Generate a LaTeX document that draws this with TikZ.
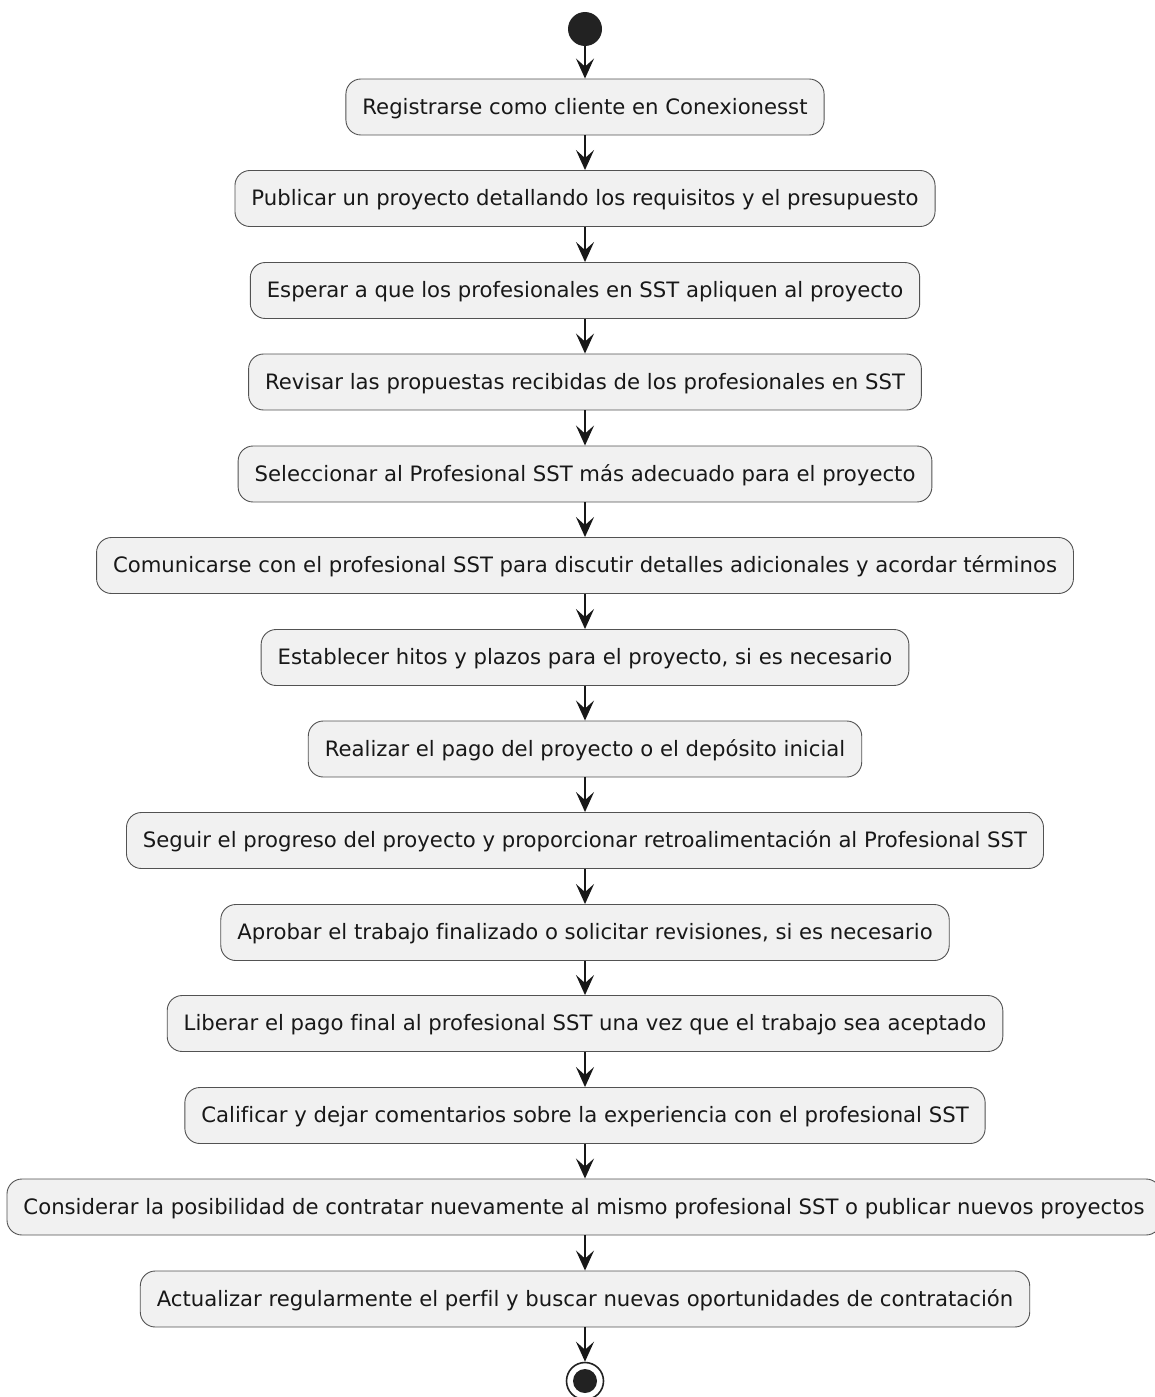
\documentclass[tikz,border=0pt]{standalone}
\usepackage{fontspec}
\setmainfont[Ligatures=NoCommon]{DejaVu Sans}
\usetikzlibrary{arrows.meta,positioning}
\definecolor{boxfill}{HTML}{F1F1F1}
\definecolor{ink}{HTML}{181818}
\definecolor{dot}{HTML}{222222}
\tikzset{
  actbox/.style={draw=ink!75,line width=0.9pt,fill=boxfill,rounded corners=15pt,
    minimum height=56pt,inner xsep=16.5pt,inner ysep=0pt,
    text height=15.5pt,text depth=1.5pt,
    font=\fontsize{21.2}{25}\selectfont,text=ink},
  flow/.style={draw=ink,line width=1.6pt,-{Stealth[length=20pt,width=18pt,inset=8pt]}},
}
\begin{document}
\begin{tikzpicture}[x=1pt,y=-1pt]
\useasboundingbox (0,0) rectangle (1154,1397);
\node[circle,fill=dot,minimum size=34pt,inner sep=0pt] (start) at (585,29) {};
\node[actbox] (a1) at (585,107) {Registrarse como cliente en Conexionesst};
\node[actbox] (a2) at (585,198.5) {Publicar un proyecto detallando los requisitos y el presupuesto};
\node[actbox] (a3) at (585,290.5) {Esperar a que los profesionales en SST apliquen al proyecto};
\node[actbox] (a4) at (585,382) {Revisar las propuestas recibidas de los profesionales en SST};
\node[actbox] (a5) at (585,474) {Seleccionar al Profesional SST más adecuado para el proyecto};
\node[actbox] (a6) at (585,565.5) {Comunicarse con el profesional SST para discutir detalles adicionales y acordar términos};
\node[actbox] (a7) at (585,657.5) {Establecer hitos y plazos para el proyecto, si es necesario};
\node[actbox] (a8) at (585,749) {Realizar el pago del proyecto o el depósito inicial};
\node[actbox] (a9) at (585,840.5) {Seguir el progreso del proyecto y proporcionar retroalimentación al Profesional SST};
\node[actbox] (a10) at (585,932.5) {Aprobar el trabajo finalizado o solicitar revisiones, si es necesario};
\node[actbox] (a11) at (585,1023.5) {Liberar el pago final al profesional SST una vez que el trabajo sea aceptado};
\node[actbox] (a12) at (585,1115.5) {Calificar y dejar comentarios sobre la experiencia con el profesional SST};
\node[actbox] (a13) at (584,1207) {Considerar la posibilidad de contratar nuevamente al mismo profesional SST o publicar nuevos proyectos};
\node[actbox] (a14) at (585,1299) {Actualizar regularmente el perfil y buscar nuevas oportunidades de contratación};
\node[circle,draw=dot,line width=1.6pt,fill=white,minimum size=37pt,inner sep=0pt] (stop) at (585,1381) {};
\node[circle,fill=dot,minimum size=24pt,inner sep=0pt] (stopin) at (stop.center) {};
\draw[flow] (start) -- (a1);
\foreach \i/\j in {1/2,2/3,3/4,4/5,5/6,6/7,7/8,8/9,9/10,10/11,11/12,12/13,13/14}
  \draw[flow] (a\i.south -| a1.south) -- (a\j.north -| a1.north);
\draw[flow] (a14.south -| a1.south) -- (stop);
\end{tikzpicture}
\end{document}
